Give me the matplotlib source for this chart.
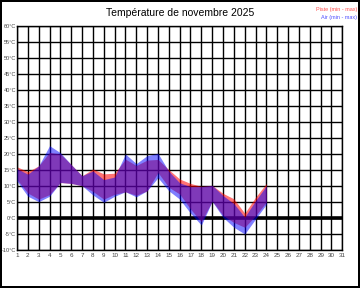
import matplotlib
matplotlib.use("Agg")
import matplotlib.pyplot as plt
import numpy as np

plt.rcParams['font.family'] = ['Liberation Sans', 'DejaVu Sans']

# Novembre 2025 : jours disponibles
days = list(range(1, 25))
piste_max = [16, 14.5, 16.3, 20.5, 20, 16.7, 13.2, 15.3, 13.8, 14, 18.4, 16.4,
             18.1, 18.3, 15.1, 12.2, 10.8, 9.9, 10.2, 7.7, 6, 1.5, 6.5, 10.8]
piste_min = [12, 7.8, 5.9, 7.3, 11.1, 10.8, 10.1, 8.3, 5.9, 7.4, 8.2, 7.1,
             8.5, 14.2, 9.6, 7.5, 2.8, -1.2, 5.3, 0.8, -1.4, -2.9, 0.7, 5]
air_max = [15.4, 13.7, 16.3, 22.6, 20.4, 16.7, 13.2, 14.7, 12, 12.8, 20, 17,
           19.5, 20.2, 14.6, 11, 9.8, 9.8, 10.2, 7, 4.5, 0.3, 5.4, 10.1]
air_min = [11.5, 6.8, 5.1, 6.8, 11.1, 10.8, 10.1, 7.2, 4.9, 6.8, 8.2, 6.6,
           8.5, 12.6, 8.5, 5.9, 1.5, -2.2, 5.2, 0.2, -2.9, -5, -0.3, 4.3]

xticks_days = list(range(1, 32))
yticks_temp = list(range(-10, 61, 5))

fig = plt.figure(figsize=(3.6, 2.88), dpi=100, edgecolor='black', linewidth=1.5)
ax = fig.add_axes([17/360, 1-250/288, (342.3-17)/360, (250-26)/288])

# grille
for d in xticks_days:
    ax.axvline(d, color='black', lw=1.0, zorder=1)
for t in yticks_temp:
    ax.axhline(t, color='black', lw=1.0, zorder=1)
ax.axhline(0, color='black', lw=2.6, zorder=1)

ax.fill_between(days, piste_min, piste_max, color='#ff0000', alpha=0.55, lw=0, zorder=2)
ax.fill_between(days, air_min, air_max, color='#0000ff', alpha=0.5, lw=0, zorder=3)

ax.set_xlim(1, 31)
ax.set_ylim(-10, 60)
ax.set_xticks(xticks_days)
ax.set_xticklabels([str(d) for d in xticks_days])
ax.set_yticks(yticks_temp)
ax.set_yticklabels([f"{t}°C" for t in yticks_temp])
ax.tick_params(axis='x', length=0, labelsize=4.5, labelcolor='#444444', pad=2)
ax.tick_params(axis='y', length=0, labelsize=4.0, labelcolor='#444444', pad=0.8)
for s in ax.spines.values():
    s.set_color('black')
    s.set_linewidth(1.0)

fig.text(0.5, 1-13/288, "Température de novembre 2025", ha='center', va='center', fontsize=7.5)
fig.text(357/360, 1-9/288, "Piste (min - max)", ha='right', va='center', fontsize=4, color='#ff5050')
fig.text(357/360, 1-17/288, "Air (min - max)", ha='right', va='center', fontsize=4, color='#5050ff')

fig.savefig("out.png", dpi=100, edgecolor=fig.get_edgecolor())
